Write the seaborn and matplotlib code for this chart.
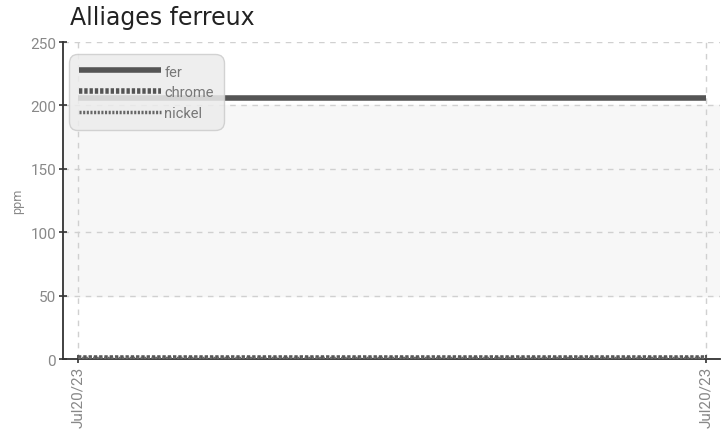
import matplotlib
matplotlib.use("Agg")
import matplotlib.pyplot as plt
import seaborn as sns
import pandas as pd

# Data
dates = ["Jul20/23", "Jul20/23"]
fer = [206, 206]
chrome = [1, 1]
nickel = [1, 1]
series_names = ["fer", "chrome", "nickel"]
band_low, band_high = 50, 200
yticks = [0, 50, 100, 150, 200, 250]

sns.set_theme(style="white")
plt.rcParams["font.family"] = ["Roboto", "DejaVu Sans"]

idx = list(range(len(dates)))
df = pd.DataFrame({
    "x": idx * 3,
    "value": fer + chrome + nickel,
    "serie": [series_names[0]] * 2 + [series_names[1]] * 2 + [series_names[2]] * 2,
})

fig = plt.figure(figsize=(7.27, 4.35), dpi=100)
ax = fig.add_axes([0.0867, 0.1724, 0.9033, 0.7286])

ax.axhspan(band_low, band_high, color="#f7f7f7", zorder=0)

styles = {
    "fer": dict(lw=4.0, ls="-", color="#555555"),
    "chrome": dict(lw=4.0, ls=(0, (0.6, 0.35)), color="#555555"),
    "nickel": dict(lw=2.5, ls=(0, (0.6, 0.45)), color="#666666"),
}
for name in series_names:
    sub = df[df["serie"] == name]
    st = styles[name]
    sns.lineplot(data=sub, x="x", y="value", ax=ax, label=name,
                 color=st["color"], linewidth=st["lw"], linestyle=st["ls"],
                 solid_capstyle="butt", dash_capstyle="butt", zorder=3)

ax.set_xlim(-0.0239, 1.0223)
ax.set_ylim(0, 250)
ax.set_yticks(yticks)
ax.set_yticklabels([str(v) for v in yticks])
ax.set_xticks(idx)
ax.set_xticklabels(dates, rotation=90)

ax.grid(True, color="#d0d0d0", linestyle=(0, (4, 4)), linewidth=1.0, zorder=1)
ax.set_axisbelow(True)

for s in ["top", "right"]:
    ax.spines[s].set_visible(False)
for s in ["left", "bottom"]:
    ax.spines[s].set_color("#333333")
    ax.spines[s].set_linewidth(1.3)

ax.tick_params(axis="both", which="both", direction="inout", length=6, width=1.2,
               color="#333333", labelcolor="#888888", labelsize=11, pad=2,
               left=True, bottom=True)

ax.set_xlabel("")
ax.set_ylabel("ppm", color="#888888", fontsize=9, labelpad=4)

fig.text(0.096, 0.932, "Alliages ferreux", fontsize=17, color="#222222",
         family=["DejaVu Sans"], va="bottom")

leg = ax.legend(loc="upper left", bbox_to_anchor=(0.002, 0.975), frameon=True,
                fancybox=True, framealpha=0.85, facecolor="#ececec",
                edgecolor="#cccccc", handlelength=5.6, handletextpad=0.25,
                labelspacing=0.45, fontsize=10.5, borderpad=0.5)
for t in leg.get_texts():
    t.set_color("#777777")
leg.get_frame().set_boxstyle("round,pad=0.2,rounding_size=0.6")

fig.savefig("out.png", dpi=100)
